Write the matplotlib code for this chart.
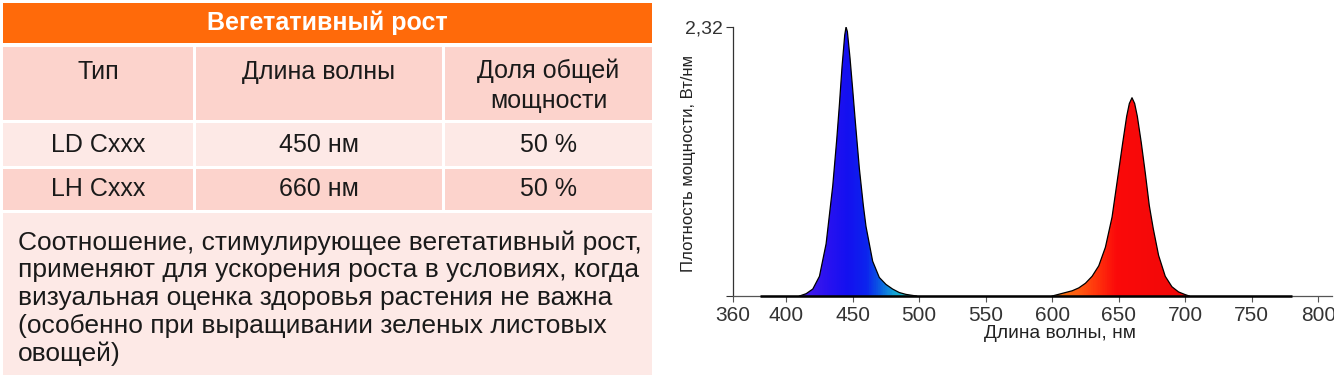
import numpy as np
import matplotlib
matplotlib.use("Agg")
import matplotlib.pyplot as plt
from matplotlib.patches import Rectangle, Polygon
from matplotlib.colors import LinearSegmentedColormap

plt.rcParams["font.family"] = ["Liberation Sans", "DejaVu Sans"]

# ---- table content ----
TITLE = "Вегетативный рост"
COL_HEADERS = ["Тип", "Длина волны", "Доля общей\nмощности"]
ROWS = [["LD Cxxx", "450 нм", "50 %"],
        ["LH Cxxx", "660 нм", "50 %"]]
NOTE = ("Соотношение, стимулирующее вегетативный рост,\n"
        "применяют для ускорения роста в условиях, когда\n"
        "визуальная оценка здоровья растения не важна\n"
        "(особенно при выращивании зеленых листовых\n"
        "овощей)")

# ---- spectrum (nm, W/nm) ----
blue_nm = [410, 415, 420, 425, 430, 435, 438, 440, 442, 444, 445, 446, 448,
           450, 452, 455, 458, 460, 465, 470, 475, 480, 485, 490, 495, 498]
blue_val = [0.0, 0.02, 0.06, 0.17, 0.45, 0.95, 1.35, 1.65, 1.98, 2.25, 2.32,
            2.28, 2.05, 1.78, 1.50, 1.10, 0.78, 0.60, 0.30, 0.16, 0.10, 0.06,
            0.03, 0.014, 0.005, 0.0]
red_nm = [600, 605, 610, 615, 620, 625, 630, 635, 640, 645, 650, 653, 656,
          658, 660, 662, 664, 667, 670, 673, 676, 680, 685, 690, 695, 700, 703]
red_val = [0.0, 0.015, 0.03, 0.045, 0.07, 0.11, 0.17, 0.26, 0.42, 0.68, 1.08,
           1.32, 1.55, 1.66, 1.71, 1.66, 1.55, 1.32, 1.06, 0.78, 0.58, 0.35,
           0.17, 0.08, 0.035, 0.012, 0.0]
baseline_nm = [380, 780]
Y_MAX = 2.32
x_ticks = [360, 400, 450, 500, 550, 600, 650, 700, 750, 800]

# colour of the fill along the wavelength axis
grad_nm = [360, 410, 430, 445, 460, 470, 480, 495, 520, 580, 600, 620, 635, 648, 700, 810]
grad_col = ["#5a20e0", "#4a1ee8", "#2a12f0", "#1410f0", "#0c24ee", "#0a5ee2",
            "#12a0d6", "#28d0b8", "#40e060", "#f0a020", "#f07a12", "#ff5a10",
            "#ff300c", "#fb0a0a", "#f00808", "#e80808"]

fig = plt.figure(figsize=(13.34, 3.8), dpi=100)

# ---------------- left: table ----------------
ta = fig.add_axes([0, 0, 1, 1])
ta.set_xlim(0, 1334)
ta.set_ylim(380, 0)
ta.axis("off")

txt = "#1a1a1a"
ta.add_patch(Rectangle((3, 3), 649, 40, color="#ff6a0a", lw=0))
ta.text(327, 23, TITLE, color="white", fontsize=18, fontweight="bold",
        ha="center", va="center")

col_x = [(3, 193), (196, 442), (445, 652)]
row_y = [(47, 120), (123, 166), (169, 210)]
row_col = ["#fcd3cc", "#fde9e6", "#fcd3cc"]
for r, (y0, y1) in enumerate(row_y):
    for c, (x0, x1) in enumerate(col_x):
        ta.add_patch(Rectangle((x0, y0), x1 - x0, y1 - y0, color=row_col[r], lw=0))
        label = COL_HEADERS[c] if r == 0 else ROWS[r - 1][c]
        yc = 86 if r == 0 and c == 2 else (72 if r == 0 else (y0 + y1) / 2)
        ta.text((x0 + x1) / 2, yc, label, color=txt, fontsize=18,
                ha="center", va="center", linespacing=1.3)

ta.add_patch(Rectangle((3, 213), 649, 162, color="#fde9e6", lw=0))
ta.text(18, 298, NOTE, color=txt, fontsize=19, ha="left", va="center",
        linespacing=1.19)

# ---------------- right: spectrum ----------------
ax = fig.add_axes([733 / 1334, 84 / 380, 598.5 / 1334, 269 / 380])
ax.set_xlim(360, 810)
ax.set_ylim(0, Y_MAX)

cmap = LinearSegmentedColormap.from_list(
    "wl", [((n - grad_nm[0]) / (grad_nm[-1] - grad_nm[0]), c) for n, c in zip(grad_nm, grad_col)])
grad = cmap(np.linspace(0, 1, 900))[np.newaxis, :, :3]

for nm, val in [(blue_nm, blue_val), (red_nm, red_val)]:
    poly = Polygon(np.column_stack([nm, val]), closed=True, facecolor="none",
                   edgecolor="none", transform=ax.transData)
    ax.add_patch(poly)
    im = ax.imshow(grad, extent=[360, 810, 0, Y_MAX], aspect="auto",
                   origin="lower", interpolation="bilinear", zorder=1)
    im.set_clip_path(poly)
    ax.plot(nm, val, color="black", lw=0.9, zorder=2)

ax.plot(baseline_nm, [0, 0], color="black", lw=1.8, zorder=3, clip_on=False,
        solid_capstyle="butt")

for s in ["top", "right"]:
    ax.spines[s].set_visible(False)
ax.spines["left"].set_color("#333333")
ax.spines["bottom"].set_color("#555555")
ax.spines["left"].set_linewidth(0.9)
ax.spines["bottom"].set_linewidth(0.9)

ax.set_xticks(x_ticks)
ax.set_xticklabels([str(t) for t in x_ticks])
ax.set_yticks([0, Y_MAX])
ax.set_yticklabels(["", "2,32"])
ax.tick_params(axis="x", length=4, width=0.8, pad=3, labelsize=15,
               labelcolor="#333333", color="#555555")
ax.tick_params(axis="y", length=5, width=0.8, pad=2, labelsize=14,
               labelcolor="#333333", color="#333333")

ax.set_xlabel("Длина волны, нм", fontsize=13.8, color="#222222")
ax.xaxis.set_label_coords((1060 - 733) / 598.5, (296 - 333) / 269)
ax.xaxis.label.set_va("center")
ax.set_ylabel("Плотность мощности, Вт/нм", fontsize=12, color="#222222")
ax.yaxis.set_label_coords((688 - 733) / 598.5, (296 - 164) / 269)
ax.yaxis.label.set_va("center")

fig.savefig("out.png", dpi=100)
